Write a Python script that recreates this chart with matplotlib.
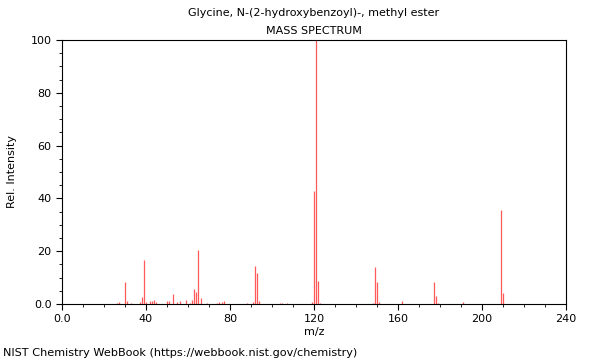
import matplotlib
matplotlib.use('Agg')
import matplotlib.pyplot as plt
from matplotlib.ticker import MultipleLocator

title = "Glycine, N-(2-hydroxybenzoyl)-, methyl ester"
subtitle = "MASS SPECTRUM"
footer = "NIST Chemistry WebBook (https://webbook.nist.gov/chemistry)"

mz = [26, 27, 30, 31, 33, 37, 38, 39, 40, 42, 43, 44, 45, 50, 51, 53, 55, 56, 59,
      61, 62, 63, 64, 65, 66, 69, 74, 75, 76, 77, 88, 91, 92, 93, 94, 104, 105, 107,
      119, 120, 121, 122, 123, 148, 149, 150, 151, 162, 177, 178, 179, 191, 209, 210]
intensity = [0.5, 0.9, 8.2, 1.3, 0.5, 0.9, 2.8, 16.8, 0.9, 1.1, 1.0, 1.5, 0.9, 1.3, 1.3, 3.8, 0.6, 1.1, 1.6,
             0.5, 1.6, 5.7, 4.7, 20.4, 2.3, 0.4, 0.5, 0.8, 0.8, 1.1, 0.5, 0.9, 14.5, 11.9, 1.0, 0.3, 0.3, 0.5,
             0.9, 42.8, 100, 8.6, 0.5, 0.3, 14.1, 8.2, 0.8, 1.3, 8.5, 2.9, 0.3, 0.9, 35.6, 4.0]

fig = plt.figure(figsize=(6, 3.6), dpi=100)
ax = fig.add_axes([0.1033, 0.1556, 0.84, 0.7333])
ax.vlines(mz, 0, intensity, color='red', alpha=0.65, lw=0.9)
ax.set_xlim(0, 240)
ax.set_ylim(0, 100)
ax.xaxis.set_major_locator(MultipleLocator(40))
ax.xaxis.set_minor_locator(MultipleLocator(10))
ax.yaxis.set_major_locator(MultipleLocator(20))
ax.yaxis.set_minor_locator(MultipleLocator(5))
fmt = lambda v, p: "0.0" if v == 0 else f"{int(v)}"
ax.xaxis.set_major_formatter(fmt)
ax.yaxis.set_major_formatter(fmt)
ax.tick_params(labelsize=8, length=4, width=0.8)
ax.tick_params(which='minor', length=2, width=0.6)
ax.set_xlabel("m/z", fontsize=8, labelpad=2)
ax.set_ylabel("Rel. Intensity", fontsize=8, labelpad=10)
ax.set_title(subtitle, fontsize=8, pad=4)
fig.text(0.5233, 0.963, title, ha='center', va='center', fontsize=8)
fig.text(0.005, 0.02, footer, ha='left', va='center', fontsize=8.1)
fig.savefig('out.png', dpi=100)
